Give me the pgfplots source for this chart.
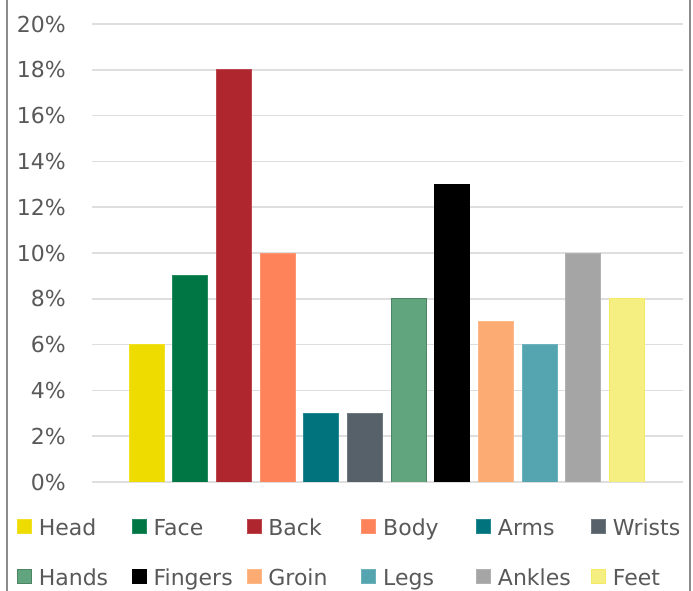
\documentclass[border=0pt]{standalone}
\usepackage{pgfplots}
\pgfplotsset{compat=1.18}
\usepackage{fontspec}
\setmainfont{DejaVu Sans}
\definecolor{txt}{HTML}{595959}
\definecolor{gridc}{HTML}{DEDEDE}
\definecolor{framec}{HTML}{8C8C8C}
\definecolor{cHead}{HTML}{EEDC00}
\definecolor{cFace}{HTML}{007645}
\definecolor{cBack}{HTML}{B0262F}
\definecolor{cBody}{HTML}{FF835A}
\definecolor{cArms}{HTML}{00737C}
\definecolor{cWrists}{HTML}{56616A}
\definecolor{cHands}{HTML}{60A57D}
\definecolor{cFingers}{HTML}{000000}
\definecolor{cGroin}{HTML}{FCAC72}
\definecolor{cLegs}{HTML}{55A5B0}
\definecolor{cAnkles}{HTML}{A5A5A5}
\definecolor{cFeet}{HTML}{F5EE80}
\newcommand{\bigfont}{\fontsize{22}{26}\selectfont}
\begin{document}
\begin{tikzpicture}
  \begin{axis}[
      at={(92pt,109pt)}, anchor=south west,
      scale only axis, width=591pt, height=458pt,
      xmin=-1.246, xmax=12.28, ymin=0, ymax=20,
      axis line style={draw=none},
      xtick=\empty,
      ytick={0,2,...,20},
      yticklabels={0\%,2\%,4\%,6\%,8\%,10\%,12\%,14\%,16\%,18\%,20\%},
      major tick length=0pt,
      ymajorgrids,
      grid style={draw=gridc, line width=1.5pt},
      yticklabel style={font=\bigfont, text=txt, inner xsep=0pt, xshift=-26pt},
      every axis plot/.append style={ybar, bar width=35pt, bar shift=0pt, line width=0.8pt,
        legend image code/.code={\path[##1] (0pt,1pt) rectangle (14pt,15pt);}},
      legend columns=6,
      legend style={at={(-0.1269,-0.0808)}, anchor=north west, draw=none,
        inner sep=0pt, outer sep=0pt, font=\bigfont, text=txt, row sep=28pt,
        nodes={inner xsep=0pt, inner ysep=0pt, text width=93pt,
          text height=16pt, text depth=5pt, align=left, yshift=4pt},
        /tikz/every odd column/.append style={column sep=7pt}},
    ]
    \addplot[fill=cHead, draw=cHead!85!white] coordinates {(0,6)};
    \addlegendentry{Head}
    \addplot[fill=cFace, draw=cFace!85!white] coordinates {(1,9)};
    \addlegendentry{Face}
    \addplot[fill=cBack, draw=cBack!85!white] coordinates {(2,18)};
    \addlegendentry{Back}
    \addplot[fill=cBody, draw=cBody!85!white] coordinates {(3,10)};
    \addlegendentry{Body}
    \addplot[fill=cArms, draw=cArms!85!white] coordinates {(4,3)};
    \addlegendentry{Arms}
    \addplot[fill=cWrists, draw=cWrists!85!white] coordinates {(5,3)};
    \addlegendentry{Wrists}
    \addplot[fill=cHands, draw=cHands!80!black] coordinates {(6,8)};
    \addlegendentry{Hands}
    \addplot[fill=cFingers, draw=cFingers] coordinates {(7,13)};
    \addlegendentry{Fingers}
    \addplot[fill=cGroin, draw=cGroin!85!white] coordinates {(8,7)};
    \addlegendentry{Groin}
    \addplot[fill=cLegs, draw=cLegs!85!white] coordinates {(9,6)};
    \addlegendentry{Legs}
    \addplot[fill=cAnkles, draw=cAnkles!85!white] coordinates {(10,10)};
    \addlegendentry{Ankles}
    \addplot[fill=cFeet, draw=cFeet!80!cHead] coordinates {(11,8)};
    \addlegendentry{Feet}
  \end{axis}
  \draw[framec, line width=2pt] (7pt,0pt) -- (7pt,591pt);
  \draw[framec, line width=2pt] (690pt,0pt) -- (690pt,591pt);
  \pgfresetboundingbox
  \path (0pt,0pt) rectangle (693pt,591pt);
\end{tikzpicture}
\end{document}
